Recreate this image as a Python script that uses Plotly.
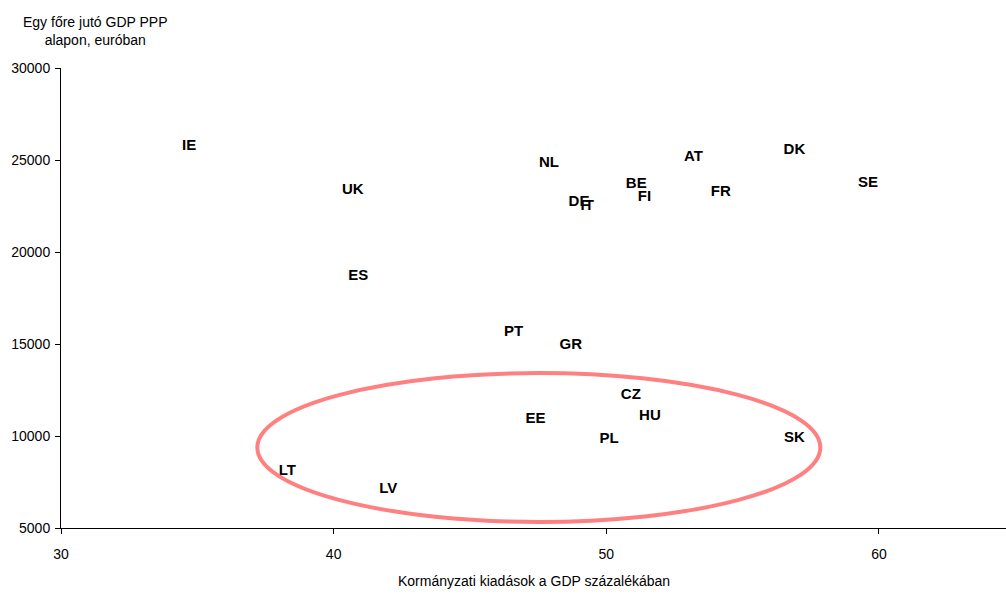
import plotly.graph_objects as go

# Országkódok, kormányzati kiadások (% GDP) és egy főre jutó GDP (PPP, euró)
countries = ["IE", "UK", "ES", "NL", "AT", "DK", "SE", "FR", "BE", "FI", "DE", "IT",
             "PT", "GR", "CZ", "HU", "EE", "PL", "SK", "LT", "LV"]
spending = [34.7, 40.7, 40.9, 47.9, 53.2, 56.9, 59.6, 54.2, 51.1, 51.4, 49.0, 49.3,
            46.6, 48.7, 50.9, 51.6, 47.4, 50.1, 56.9, 38.3, 42.0]
gdp_pc = [25750, 23350, 18700, 24800, 25150, 25550, 23750, 23250, 23700, 23000, 22700, 22500,
          15650, 14950, 12200, 11100, 10900, 9850, 9900, 8100, 7100]

x_ticks = [30, 40, 50, 60]
y_ticks = [5000, 10000, 15000, 20000, 25000, 30000]

font_family = "Liberation Sans, Arial, sans-serif"

fig = go.Figure()
fig.add_trace(go.Scatter(
    x=spending, y=gdp_pc, text=countries, mode="text",
    textposition="middle center",
    textfont=dict(family=font_family, size=15, color="black", weight="bold"),
    hoverinfo="text+x+y", showlegend=False,
))

# Kiemelt csoport (új tagállamok) körüli ellipszis
fig.add_shape(type="circle", xref="x", yref="y",
              x0=37.2, x1=57.85, y0=5330, y1=13420,
              line=dict(color="#FF8080", width=4), layer="above")

fig.update_xaxes(range=[30, 64.66], tickvals=x_ticks, showgrid=False, zeroline=False,
                 showline=True, linecolor="black", linewidth=1,
                 ticks="outside", ticklen=5, tickcolor="black", ticklabelstandoff=8,
                 tickfont=dict(family=font_family, size=14, color="black"))
fig.update_yaxes(range=[5000, 30000], tickvals=y_ticks, tickformat="d",
                 showgrid=False, zeroline=False,
                 showline=True, linecolor="black", linewidth=1,
                 ticks="outside", ticklen=5, tickcolor="black", ticklabelstandoff=2,
                 tickfont=dict(family=font_family, size=14, color="black"))

fig.add_annotation(text="Egy főre jutó GDP PPP<br>alapon, euróban",
                   xref="paper", yref="paper", x=0.036, y=1.039,
                   xanchor="center", yanchor="bottom", showarrow=False, align="center",
                   font=dict(family=font_family, size=14, color="black"))
fig.add_annotation(text="Kormányzati kiadások a GDP százalékában",
                   xref="paper", yref="paper", x=0.5, y=-0.094,
                   xanchor="center", yanchor="top", showarrow=False,
                   font=dict(family=font_family, size=14, color="black"))

fig.update_layout(width=1006, height=596,
                  margin=dict(l=61, r=0, t=68, b=68),
                  paper_bgcolor="white", plot_bgcolor="white")

fig.write_html("out.html")
